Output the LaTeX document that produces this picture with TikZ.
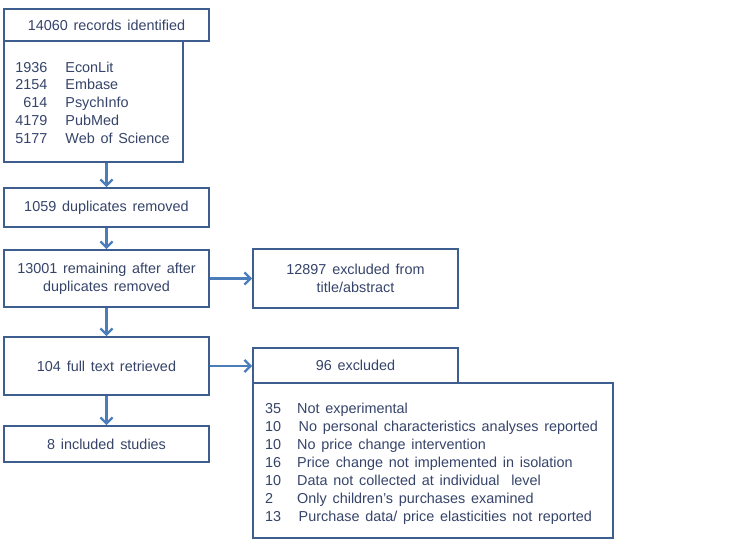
\documentclass[tikz,border=0pt]{standalone}
\usepackage{fontspec}
\setmainfont[WordSpace=1.45]{Liberation Sans}
\usetikzlibrary{arrows.meta}
\definecolor{boxline}{HTML}{3D5E8E}
\definecolor{arrowline}{HTML}{4A7DBA}
\definecolor{txt}{HTML}{36446A}
\tikzset{
  box/.style={draw=boxline, line width=1.9pt, fill=white, inner sep=0pt, text=txt,
    font=\fontsize{14.4}{18}\selectfont, align=center},
  listtext/.style={inner sep=0pt, text=txt, anchor=base west},
  arr/.style={draw=arrowline, line width=2.3pt, -{Straight Barb[length=6pt,width=12pt,line width=2.3pt]}}
}
\begin{document}
\begin{tikzpicture}[x=1pt,y=-1pt]
\useasboundingbox (0,0) rectangle (738,546);
% left column
\node[box, minimum width=179pt, minimum height=121pt] (l1) at (93.5,101.5) {};
\node[box, minimum width=205pt, minimum height=32pt] (n1) at (106.5,25) {14060 records identified};
\node[listtext] (t1) at (15.2,72) {\fontsize{14.4}{17.75}\selectfont
  \begin{tabular}[t]{@{}r@{\hspace{18pt}}l@{}}
  1936 & EconLit\\
  2154 & Embase\\
  614 & PsychInfo\\
  4179 & PubMed\\
  5177 & Web of Science
  \end{tabular}};
\node[box, minimum width=205pt, minimum height=39pt] (n2) at (106.5,207.5) {1059 duplicates removed};
\node[box, minimum width=205pt, minimum height=57pt] (n3) at (106.5,278.5) {13001 remaining after after\\duplicates removed};
\node[box, minimum width=205pt, minimum height=58pt] (n5) at (106.5,366) {104 full text retrieved};
\node[box, minimum width=205pt, minimum height=36pt] (n6) at (106.5,444) {8 included studies};
% right column
\node[box, minimum width=205pt, minimum height=59pt] (n4) at (355.5,278.5) {12897 excluded from\\title/abstract};
\node[box, minimum width=360pt, minimum height=155pt] (l7) at (433,460.5) {};
\node[box, minimum width=205pt, minimum height=35pt] (n7) at (355.5,365.5) {96 excluded};
\node[listtext] (t7) at (265,413) {\fontsize{14.4}{18}\selectfont
  \begin{tabular}[t]{@{}p{32pt}@{}l@{}}
  35 & Not experimental\\
  10 & \hspace{1.5pt}No personal characteristics analyses reported\\
  10 & No price change intervention\\
  16 & Price change not implemented in isolation\\
  10 & Data not collected at individual\ \ level\\
  2 & Only children's purchases examined\\
  13 & \hspace{1.5pt}Purchase data/ price elasticities not reported
  \end{tabular}};
% connectors
\draw[arr] (n2.north |- l1.south) -- (n2.north);
\draw[arr] (n2.south) -- (n3.north);
\draw[arr] (n3.south) -- (n5.north);
\draw[arr] (n5.south) -- (n6.north);
\draw[arr] (n3.east) -- (n4.west);
\draw[arr] (n5.east) -- (n5.east -| n7.west);
\end{tikzpicture}
\end{document}
